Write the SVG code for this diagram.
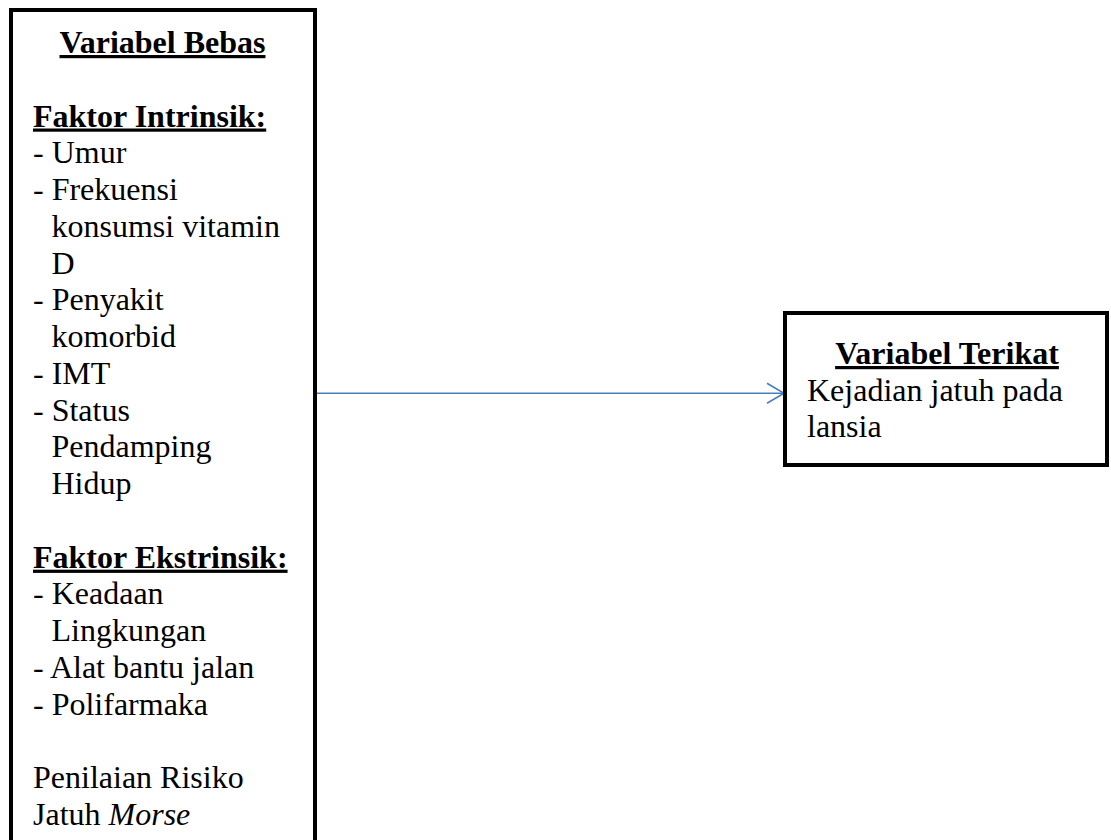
<svg xmlns="http://www.w3.org/2000/svg" width="1111" height="840" viewBox="0 0 1111 840">
<style>
.box{fill:#ffffff;stroke:#000000;stroke-width:4}
text{font-family:"Liberation Serif","Times New Roman",serif;font-size:32px;fill:#000000}
.h{font-weight:bold;text-decoration:underline}
.conn{stroke:#4a7ebb;stroke-width:1.6;fill:none}
</style>
<rect width="1111" height="840" fill="#ffffff"/>
<g id="connectors">
<line class="conn" x1="316" y1="393.3" x2="784" y2="393.3"/>
<polyline class="conn" points="767,383.3 784,393.3 767,403.3"/>
</g>
<g id="variabel-bebas">
<rect class="box" x="11" y="10" width="304" height="850"/>
<text class="h" x="162.5" y="53" text-anchor="middle">Variabel Bebas</text>
<text class="h" x="33" y="126.5">Faktor Intrinsik:</text>
<text x="33" y="163.3">- Umur</text>
<text x="33" y="200">- Frekuensi</text>
<text x="51.5" y="236.8">konsumsi vitamin</text>
<text x="51.5" y="273.6">D</text>
<text x="33" y="310.3">- Penyakit</text>
<text x="51.5" y="347">komorbid</text>
<text x="33" y="383.8">- IMT</text>
<text x="33" y="420.6">- Status</text>
<text x="51.5" y="457.4">Pendamping</text>
<text x="51.5" y="494.1">Hidup</text>
<text class="h" x="33" y="567.7">Faktor Ekstrinsik:</text>
<text x="33" y="604.4">- Keadaan</text>
<text x="51.5" y="641.2">Lingkungan</text>
<text x="33" y="678">- Alat bantu jalan</text>
<text x="33" y="714.7">- Polifarmaka</text>
<text x="33" y="788.3">Penilaian Risiko</text>
<text x="33" y="825">Jatuh <tspan font-style="italic">Morse</tspan></text>
</g>
<g id="variabel-terikat">
<rect class="box" x="785" y="313" width="322" height="152"/>
<text class="h" x="947" y="364" text-anchor="middle">Variabel Terikat</text>
<text x="807" y="400.7">Kejadian jatuh pada</text>
<text x="807" y="437.4">lansia</text>
</g>
</svg>
